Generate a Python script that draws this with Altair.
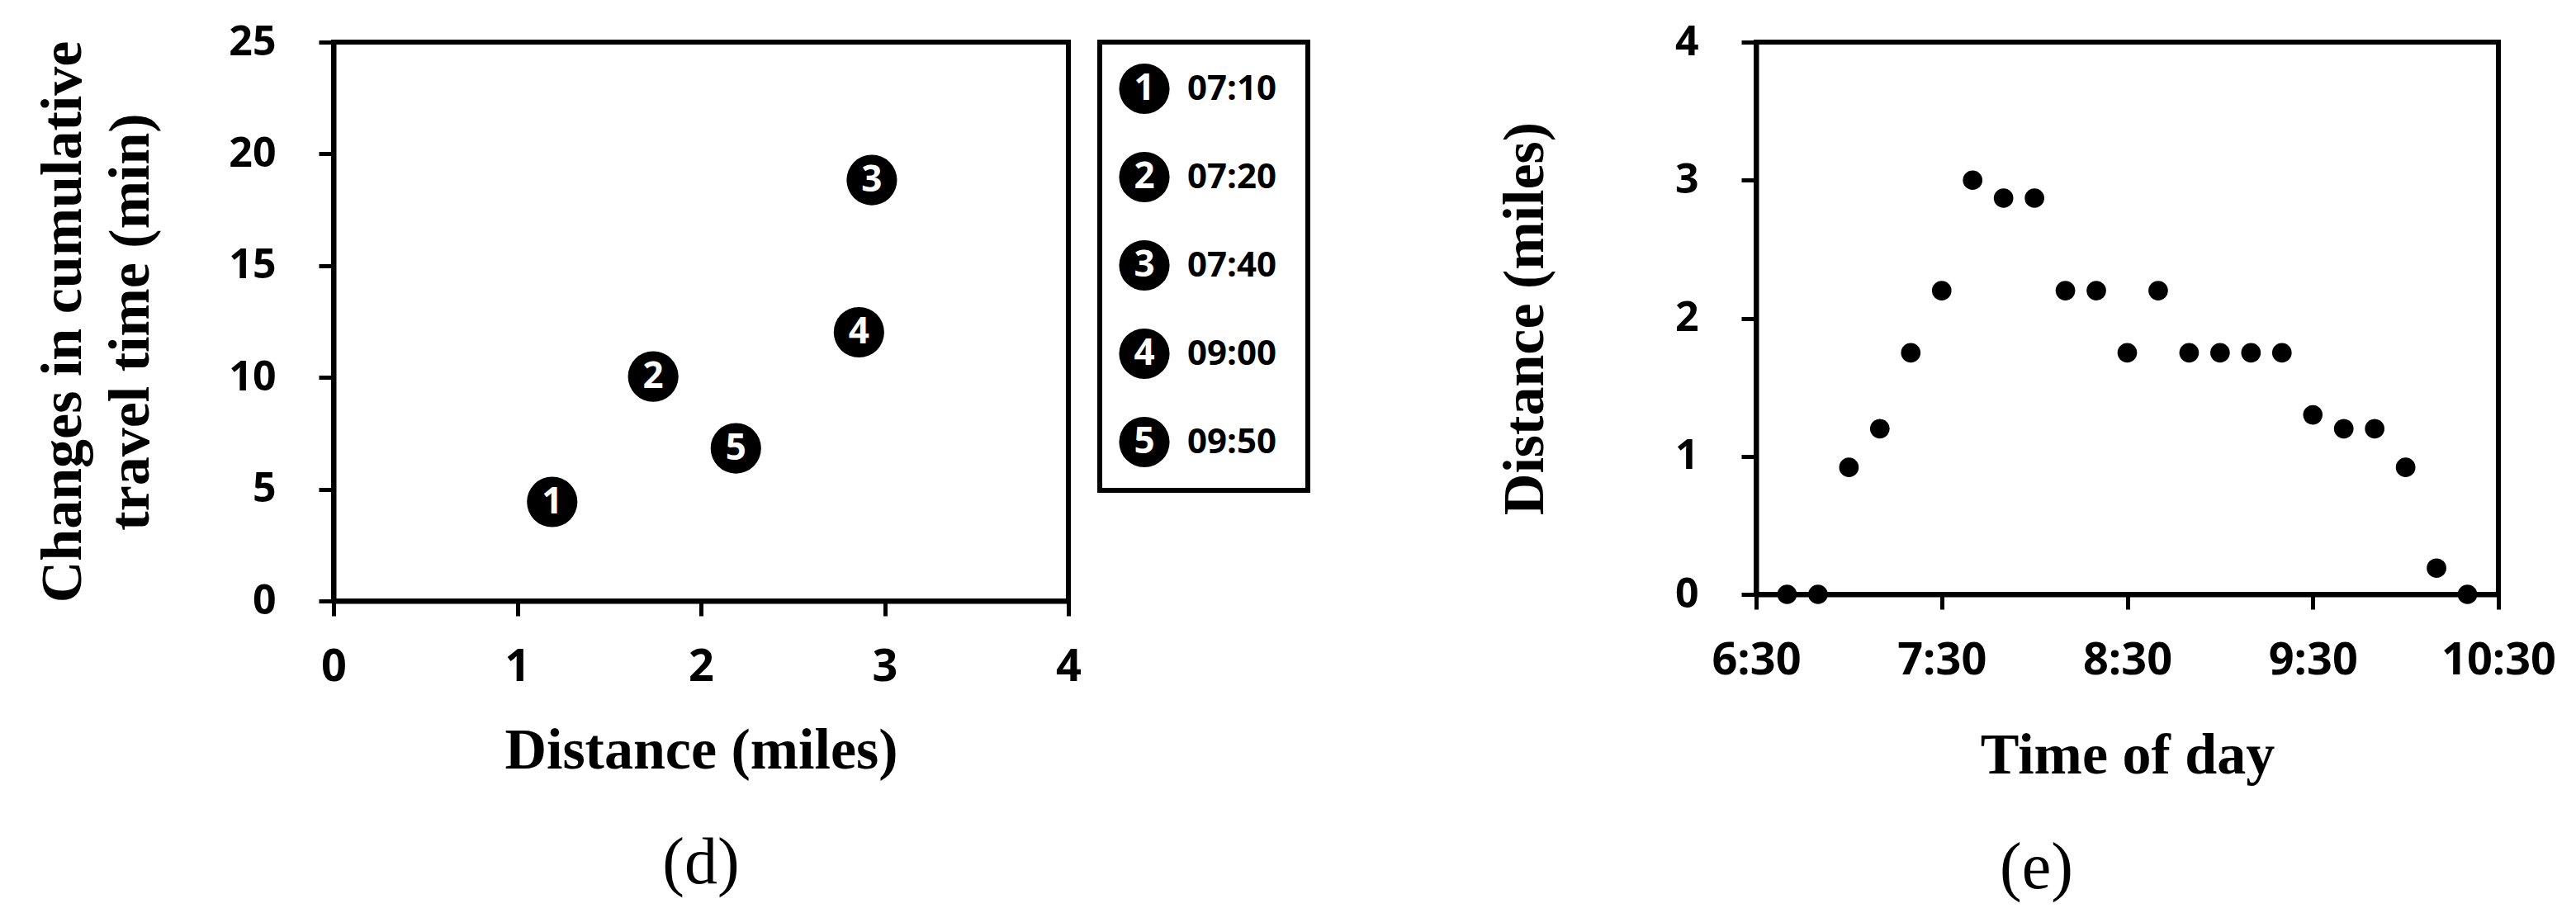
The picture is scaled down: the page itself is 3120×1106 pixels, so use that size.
import altair as alt
import pandas as pd

# ---- panel (d) data ----
d_labels = ["1", "2", "3", "4", "5"]
d_times = ["07:10", "07:20", "07:40", "09:00", "09:50"]
d_distance = [1.19, 1.74, 2.93, 2.86, 2.19]
d_change = [4.43, 10.04, 18.83, 12.02, 6.83]

# ---- panel (e) data ----
e_times = ["6:40", "6:50", "7:00", "7:10", "7:20", "7:30", "7:40", "7:50", "8:00",
           "8:10", "8:20", "8:30", "8:40", "8:50", "9:00", "9:10", "9:20", "9:30",
           "9:40", "9:50", "10:00", "10:10", "10:20"]
e_distance = [0, 0, 0.92, 1.2, 1.75, 2.2, 3.0, 2.87, 2.87, 2.2, 2.2, 1.75, 2.2, 1.75,
              1.75, 1.75, 1.75, 1.3, 1.2, 1.2, 0.92, 0.19, 0]

d_x_ticks = [0, 1, 2, 3, 4]
d_y_ticks = [0, 5, 10, 15, 20, 25]
e_x_ticks = ["6:30", "7:30", "8:30", "9:30", "10:30"]
e_y_ticks = [0, 1, 2, 3, 4]


def to_min(s):
    h, m = s.split(":")
    return int(h) * 60 + int(m)


df_d = pd.DataFrame({"label": d_labels, "time": d_times,
                     "distance": d_distance, "change": d_change})
df_d["rank"] = df_d["label"].astype(int)
df_e = pd.DataFrame({"time": e_times, "distance": e_distance})
df_e["minutes"] = [to_min(t) for t in e_times]
e_tick_min = [to_min(t) for t in e_x_ticks]

SERIF = "Liberation Serif"
SANS = "Open Sans"

# ---- panel (d) ----
xd = alt.X("distance:Q", scale=alt.Scale(domain=[0, 4], nice=False),
           axis=alt.Axis(values=d_x_ticks, title="Distance (miles)",
                         labelFontSize=54, labelPadding=35, titlePadding=40))
yd = alt.Y("change:Q", scale=alt.Scale(domain=[0, 25], nice=False),
           axis=alt.Axis(values=d_y_ticks,
                         title=["Changes in cumulative", "travel time (min)"],
                         titleLineHeight=82, labelFontSize=50,
                         labelPadding=52, titlePadding=82))
base_d = alt.Chart(df_d).encode(x=xd, y=yd)
pts_d = base_d.mark_circle(size=3740, color="black", opacity=1)
txt_d = base_d.mark_text(color="white", font=SANS, fontWeight="bold",
                         fontSize=44, align="center", baseline="middle",
                         dy=1).encode(text="label:N")
left = alt.layer(pts_d, txt_d).properties(
    width=890, height=677,
    title=alt.TitleParams("(d)", orient="bottom", font=SERIF, fontSize=80,
                          fontWeight="normal", frame="group", anchor="middle",
                          offset=63, color="black"))

# ---- legend panel ----
yl = alt.Y("rank:Q", scale=alt.Scale(domain=[0.472, 5.547], reverse=True,
                                     nice=False, zero=False), axis=None)
base_l = alt.Chart(df_d).encode(y=yl)
leg_c = base_l.mark_circle(size=3740, color="black", opacity=1).encode(
    x=alt.value(54))
leg_n = base_l.mark_text(color="white", font=SANS, fontWeight="bold",
                         fontSize=44, align="center", baseline="middle",
                         dy=1).encode(x=alt.value(54), text="label:N")
leg_t = base_l.mark_text(color="black", font=SANS, fontWeight="bold",
                         fontSize=42, align="left", baseline="middle",
                         dy=1).encode(x=alt.value(106), text="time:N")
legend = alt.layer(leg_c, leg_n, leg_t).properties(width=252, height=543)

# ---- panel (e) ----
xe = alt.X("minutes:Q", scale=alt.Scale(domain=[e_tick_min[0], e_tick_min[-1]],
                                        nice=False, zero=False),
           axis=alt.Axis(values=e_tick_min, title="Time of day",
                         labelExpr="floor(datum.value/60) + ':' + (datum.value % 60 < 10 ? '0' : '') + (datum.value % 60)",
                         labelFontSize=54, labelPadding=35, titlePadding=54))
ye = alt.Y("distance:Q", scale=alt.Scale(domain=[0, 4], nice=False),
           axis=alt.Axis(values=e_y_ticks, title="Distance (miles)",
                         labelFontSize=50, labelPadding=52, titlePadding=145))
right = alt.Chart(df_e).mark_circle(size=560, color="black", opacity=1).encode(
    x=xe, y=ye).properties(
    width=899, height=669,
    title=alt.TitleParams("(e)", orient="bottom", font=SERIF, fontSize=80,
                          fontWeight="normal", frame="group", anchor="middle",
                          offset=63, dx=-110, color="black"))

chart = alt.hconcat(
    alt.hconcat(left, legend, spacing=16),
    right, spacing=222,
).properties(
    padding={"left": 30, "top": 15, "right": 5, "bottom": 5},
    background="white",
).configure_view(
    stroke="black", strokeWidth=6
).configure_axis(
    domainColor="black", domainWidth=6, tickColor="black", tickWidth=5,
    tickSize=18, grid=False, labelColor="black", labelFont=SANS,
    labelFontWeight="bold", titleColor="black", titleFont=SERIF,
    titleFontWeight="bold", titleFontSize=70, labelFlush=False,
    labelOverlap=False
)

chart.save("out.html", embed_options={"renderer": "svg", "actions": False})
